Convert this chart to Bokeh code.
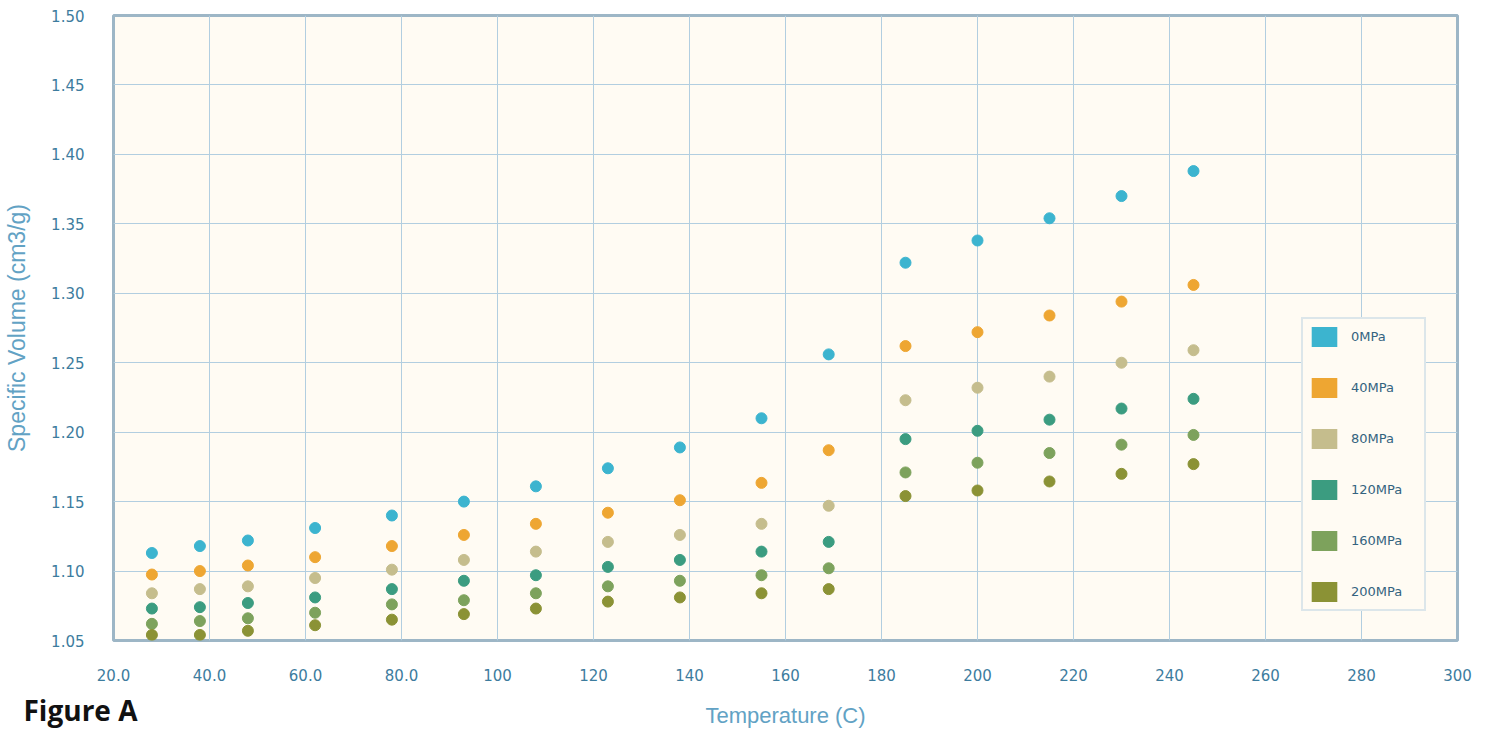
from bokeh.plotting import figure
from bokeh.models import (ColumnDataSource, Range1d, FixedTicker, NumeralTickFormatter,
                          Legend, LegendItem, Label)
from bokeh.embed import file_html
from bokeh.resources import INLINE

# Specific volume (cm3/g) against temperature (C) at six pressures
temperature = [28, 38, 48, 62, 78, 93, 108, 123, 138, 155, 169, 185, 200, 215, 230, 245]

v_0mpa = [1.113, 1.118, 1.122, 1.131, 1.140, 1.150, 1.161, 1.174, 1.189, 1.210, 1.256,
          1.322, 1.338, 1.354, 1.370, 1.388]
v_40mpa = [1.0975, 1.100, 1.104, 1.110, 1.118, 1.126, 1.134, 1.142, 1.151, 1.1635, 1.187,
           1.262, 1.272, 1.284, 1.294, 1.306]
v_80mpa = [1.084, 1.087, 1.089, 1.095, 1.101, 1.108, 1.114, 1.121, 1.126, 1.134, 1.147,
           1.223, 1.232, 1.240, 1.250, 1.259]
v_120mpa = [1.073, 1.074, 1.077, 1.081, 1.087, 1.093, 1.097, 1.103, 1.108, 1.114, 1.121,
            1.195, 1.201, 1.209, 1.217, 1.224]
v_160mpa = [1.062, 1.064, 1.066, 1.070, 1.076, 1.079, 1.084, 1.089, 1.093, 1.097, 1.102,
            1.171, 1.178, 1.185, 1.191, 1.198]
v_200mpa = [1.054, 1.054, 1.057, 1.061, 1.065, 1.069, 1.073, 1.078, 1.081, 1.084, 1.087,
            1.154, 1.158, 1.1645, 1.170, 1.177]

series_names = ["0MPa", "40MPa", "80MPa", "120MPa", "160MPa", "200MPa"]
series_values = [v_0mpa, v_40mpa, v_80mpa, v_120mpa, v_160mpa, v_200mpa]
series_colors = ["#3cb4cf", "#eea632", "#c5bd8d", "#3b9c80", "#7da25c", "#8b9235"]

x_ticks = [20, 40, 60, 80, 100, 120, 140, 160, 180, 200, 220, 240, 260, 280, 300]
x_tick_labels = ["20.0", "40.0", "60.0", "80.0", "100", "120", "140", "160", "180",
                 "200", "220", "240", "260", "280", "300"]
y_ticks = [1.05, 1.10, 1.15, 1.20, 1.25, 1.30, 1.35, 1.40, 1.45, 1.50]

TICK_COLOR = "#3d7c9e"
TITLE_COLOR = "#62a2c4"
GRID_COLOR = "#b2cee0"

# The canvas is 45px taller than the window and shifted up by that much, so the
# top border can host the caption panel while the frame stays where it belongs.
SHIFT = 45
p = figure(width=1486, height=730 + SHIFT, output_backend="svg", toolbar_location=None,
           x_range=Range1d(20, 300), y_range=Range1d(1.05, 1.50),
           min_border_left=113, min_border_right=29, min_border_top=15 + SHIFT,
           min_border_bottom=89, margin=(-SHIFT, 0, 0, 0))

p.background_fill_color = "#fffbf3"
p.border_fill_color = "#ffffff"
p.outline_line_color = "#9db6c6"
p.outline_line_width = 3

p.xaxis.ticker = FixedTicker(ticks=x_ticks)
p.xaxis.major_label_overrides = {t: s for t, s in zip(x_ticks, x_tick_labels)}
p.yaxis.ticker = FixedTicker(ticks=y_ticks)
p.yaxis.formatter = NumeralTickFormatter(format="0.00")

for ax in (p.xaxis, p.yaxis):
    ax.axis_line_color = None
    ax.major_tick_line_color = None
    ax.minor_tick_line_color = None
    ax.major_label_text_color = TICK_COLOR
    ax.major_label_text_font = "DejaVu Sans"
    ax.major_label_text_font_size = "15px"
    ax.axis_label_text_color = TITLE_COLOR
    ax.axis_label_text_font = "Liberation Sans"
    ax.axis_label_text_font_style = "normal"

p.xaxis.axis_label = "Temperature (C)"
p.yaxis.axis_label = "Specific Volume (cm3/g)"
p.xaxis.axis_label_text_font_size = "22px"
p.yaxis.axis_label_text_font_size = "23px"
p.xaxis.major_label_standoff = 22
p.yaxis.major_label_standoff = 23
p.xaxis.axis_label_standoff = 19
p.yaxis.axis_label_standoff = 18

p.xgrid.grid_line_color = GRID_COLOR
p.ygrid.grid_line_color = GRID_COLOR
p.xgrid.grid_line_width = 1
p.ygrid.grid_line_width = 1

items = []
for name, vals, color in zip(series_names, series_values, series_colors):
    src = ColumnDataSource(data=dict(t=temperature, v=vals))
    p.scatter("t", "v", source=src, size=11, marker="circle",
              fill_color=color, line_color=color)
    # zero-size rects: invisible in the frame, but give the legend a square swatch
    swatch = p.rect("t", "v", source=src, width=0, height=0,
                    fill_color=color, line_color=None)
    items.append(LegendItem(label=name, renderers=[swatch]))

legend = Legend(items=items, location=(1188, 29), orientation="vertical",
                glyph_width=32, glyph_height=25, spacing=26, padding=5,
                label_standoff=11, label_width=68, label_text_font="DejaVu Sans",
                label_text_font_size="13px", label_text_color="#34637f",
                border_line_color="#b9d2e2", border_line_width=2,
                background_fill_color="#fffbf3", background_fill_alpha=1.0,
                margin=0)
p.add_layout(legend, "center")

# caption at the lower left, placed in a side panel so it is not clipped to the frame
fig_label = Label(x=1.25, y=0.9997, x_units="data", y_units="data", text="Figure A",
                  text_font="Open Sans", text_font_style="bold", text_font_size="28px",
                  text_color="#111111", text_baseline="alphabetic", text_align="left")
p.add_layout(fig_label, "above")

open("out.html", "w").write(file_html(p, INLINE))
